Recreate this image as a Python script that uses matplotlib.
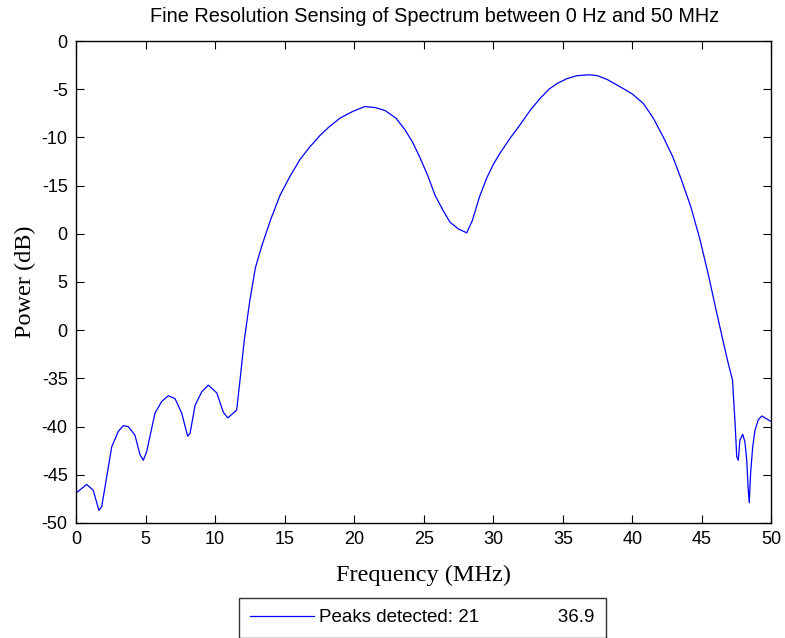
import matplotlib
matplotlib.use('Agg')
import matplotlib.pyplot as plt

# frequency (MHz) and power (dB)
freq = [0.0, 0.77, 1.24, 1.65, 1.85, 2.21, 2.57, 3.04, 3.40, 3.76, 4.24, 4.60, 4.84,
        5.08, 5.68, 6.16, 6.64, 7.12, 7.60, 8.03, 8.2, 8.56, 9.04, 9.51, 10.12, 10.59,
        10.91, 11.55, 11.79, 12.1, 12.5, 12.9, 13.37, 14.0, 14.67, 15.4, 16.1, 16.8,
        17.54, 18.2, 18.98, 19.9, 20.77, 21.5, 22.21, 23.0, 23.65, 24.2, 24.73, 25.3,
        25.81, 26.4, 26.89, 27.5, 28.09, 28.5, 29.0, 29.5, 30.0, 30.5, 31.2, 31.92,
        32.7, 33.4, 34.0, 34.6, 35.3, 36.0, 36.9, 37.5, 38.2, 39.3, 40.0, 40.8, 41.5,
        42.2, 42.9, 43.5, 44.2, 44.86, 45.5, 46.0, 46.5, 46.9, 47.2, 47.25, 47.38,
        47.5, 47.61, 47.73, 47.93, 48.09, 48.22, 48.33, 48.4, 48.5, 48.65, 48.81,
        49.05, 49.3, 49.65, 50.0]
power = [-46.9, -46.0, -46.6, -48.7, -48.3, -45.2, -42.1, -40.5, -39.9, -40.0, -40.9,
         -42.9, -43.5, -42.6, -38.6, -37.4, -36.8, -37.1, -38.6, -41.0, -40.7, -37.8,
         -36.4, -35.7, -36.5, -38.5, -39.1, -38.3, -35.2, -31.0, -26.9, -23.5, -21.2,
         -18.5, -16.0, -14.0, -12.3, -11.0, -9.8, -8.9, -8.0, -7.3, -6.8, -6.9, -7.2,
         -8.0, -9.2, -10.5, -12.1, -14.0, -16.0, -17.6, -18.8, -19.5, -19.9, -18.6,
         -16.2, -14.3, -12.8, -11.6, -10.1, -8.7, -7.1, -5.9, -5.0, -4.4, -3.9, -3.6,
         -3.5, -3.6, -4.0, -4.9, -5.5, -6.5, -8.0, -9.9, -12.0, -14.3, -17.2, -20.6,
         -24.5, -27.8, -31.0, -33.5, -35.2, -36.5, -39.6, -43.1, -43.5, -41.4, -40.8,
         -41.6, -43.5, -46.6, -47.9, -44.8, -42.1, -40.4, -39.3, -38.9, -39.2, -39.5]

yticks = [0, -5, -10, -15, -20, -25, -30, -35, -40, -45, -50]
ytick_labels = ['0', '-5', '-10', '-15', '0', '5', '0', '-35', '-40', '-45', '-50']
xticks = list(range(0, 51, 5))

fig = plt.figure(figsize=(7.85, 6.38), dpi=100)
ax = fig.add_axes([0.0968, 0.1803, 0.8860, 0.7554])

line, = ax.plot(freq, power, color='#0000ff', lw=0.9)

ax.set_xlim(0, 50)
ax.set_ylim(-50, 0)
ax.set_xticks(xticks)
ax.set_yticks(yticks)
ax.set_yticklabels(ytick_labels)
ax.tick_params(direction='in', length=6, width=0.8, top=True, right=True,
               labelsize=13, pad=6)
for lab in ax.get_xticklabels() + ax.get_yticklabels():
    lab.set_fontfamily('Liberation Sans')
for s in ax.spines.values():
    s.set_linewidth(1.0)

ax.set_title('Fine Resolution Sensing of Spectrum between 0 Hz and 50 MHz',
             fontsize=14.3, family='Liberation Sans', pad=14, x=0.516)
ax.set_xlabel('Frequency (MHz)', fontsize=17.5, family='Liberation Serif', labelpad=12)
ax.set_ylabel('Power (dB)', fontsize=17.5, family='Liberation Serif', labelpad=4)

fig.legend([line], ['Peaks detected: 21               36.9'], loc='upper center',
           bbox_to_anchor=(0.538, 0.0627), borderaxespad=0, frameon=True,
           fancybox=False, edgecolor='black',
           prop={'family': 'Liberation Sans', 'size': 13.5},
           handlelength=3.4, handletextpad=0.3, borderpad=0.6)

fig.savefig('out.png', dpi=100)
